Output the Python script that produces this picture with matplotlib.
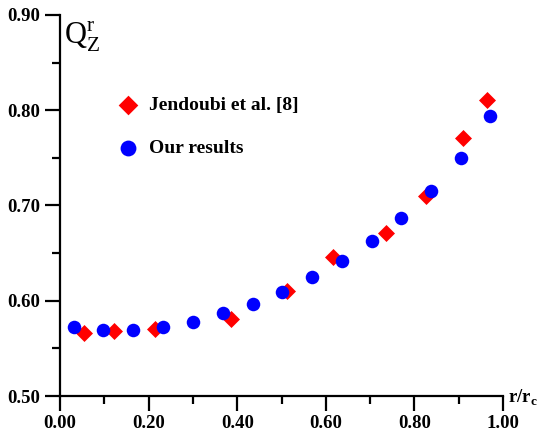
import matplotlib.pyplot as plt
import numpy as np

# Jendoubi et al. [8]
jen_x = [0.055, 0.122, 0.214, 0.386, 0.512, 0.616, 0.736, 0.826, 0.910, 0.964]
jen_y = [0.566, 0.568, 0.570, 0.581, 0.610, 0.646, 0.671, 0.710, 0.771, 0.811]

# our results
our_x = [0.032, 0.098, 0.165, 0.233, 0.300, 0.367, 0.435, 0.500, 0.568, 0.636,
         0.704, 0.770, 0.837, 0.905, 0.971]
our_y = [0.572, 0.569, 0.569, 0.572, 0.578, 0.587, 0.597, 0.609, 0.625, 0.642,
         0.663, 0.687, 0.715, 0.750, 0.794]

xticks = [0.0, 0.2, 0.4, 0.6, 0.8, 1.0]
yticks = [0.5, 0.6, 0.7, 0.8, 0.9]

plt.rcParams['font.family'] = ['Liberation Serif', 'DejaVu Serif']
plt.rcParams['mathtext.fontset'] = 'custom'
plt.rcParams['mathtext.rm'] = 'Liberation Serif'
plt.rcParams['mathtext.bf'] = 'Liberation Serif:bold'

fig = plt.figure(figsize=(5.48, 4.36), dpi=100)
ax = fig.add_axes([0.1095, 0.0917, 0.8085, 0.874])

ax.scatter(jen_x, jen_y, marker='D', s=75, color='#ff0000', lw=0, zorder=3,
           clip_on=False)
ax.scatter(our_x, our_y, marker='o', s=95, color='#0000ff', lw=0, zorder=4,
           clip_on=False)

ax.set_xlim(0, 1)
ax.set_ylim(0.5, 0.9)
ax.spines['top'].set_visible(False)
ax.spines['right'].set_visible(False)
ax.spines['left'].set_linewidth(1.6)
ax.spines['bottom'].set_linewidth(1.6)

ax.set_xticks(xticks)
ax.set_xticklabels(['%.2f' % v for v in xticks])
ax.set_yticks(yticks)
ax.set_yticklabels(['%.2f' % v for v in yticks])
ax.set_xticks(np.arange(0.1, 1.0, 0.2), minor=True)
ax.set_yticks(np.arange(0.55, 0.9, 0.1), minor=True)
ax.tick_params(which='major', direction='out', length=11, width=1.6,
               labelsize=13.5, pad=3)
ax.tick_params(which='minor', direction='out', length=6, width=1.6)
for lab in ax.get_xticklabels() + ax.get_yticklabels():
    lab.set_fontweight('bold')

# legend drawn as markers + text
ax.scatter([0.153], [0.805], marker='D', s=100, color='#ff0000', lw=0)
ax.text(0.20, 0.805, 'Jendoubi et al. [8]', fontsize=14, fontweight='bold',
        va='center')
ax.scatter([0.153], [0.760], marker='o', s=130, color='#0000ff', lw=0)
ax.text(0.20, 0.760, 'Our results', fontsize=14, fontweight='bold',
        va='center')

ax.text(0.008, 0.896, r'Q$_{\mathrm{Z}}^{\mathrm{r}}$', fontsize=22,
        va='top', ha='left')
ax.text(1.012, 0.4985, r'r/r$_{\mathbf{c}}$', fontsize=13.5, fontweight='bold',
        va='center', ha='left')

fig.savefig('out.png', dpi=100)
